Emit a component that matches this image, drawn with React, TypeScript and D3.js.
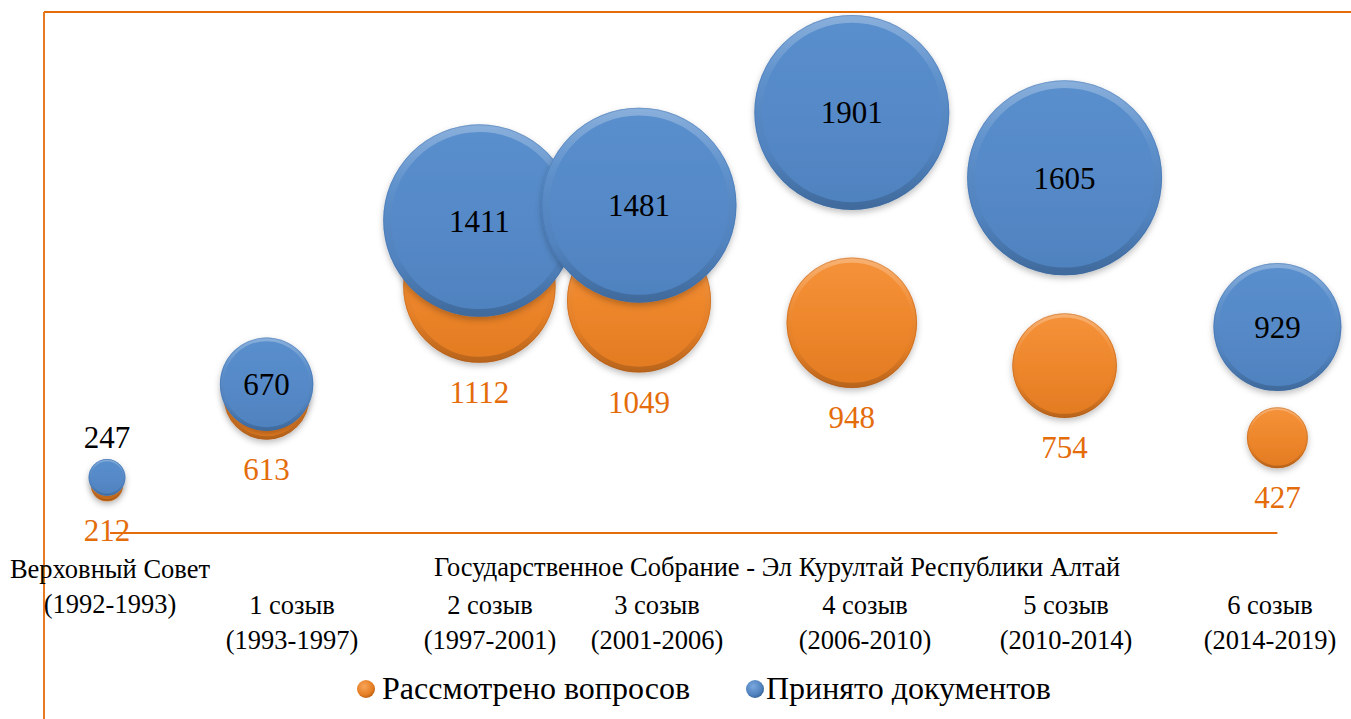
import React, { useEffect } from "react";
import * as d3 from "d3";

// ---- data ----
const seriesNames = ["Рассмотрено вопросов", "Принято документов"];
const categories = [
  ["Верховный Совет", "(1992-1993)"],
  ["1 созыв", "(1993-1997)"],
  ["2 созыв", "(1997-2001)"],
  ["3 созыв", "(2001-2006)"],
  ["4 созыв", "(2006-2010)"],
  ["5 созыв", "(2010-2014)"],
  ["6 созыв", "(2014-2019)"],
];
const groupTitle = "Государственное Собрание - Эл Курултай Республики Алтай";
const xValues = [1, 4, 8, 11, 15, 19, 23];
const reviewed = [212, 613, 1112, 1049, 948, 754, 427];
const adopted = [247, 670, 1411, 1481, 1901, 1605, 929];

// ---- layout ----
const W = 1351;
const H = 719;
const ORANGE_LINE = "#E46C0A";
const catLabelX = [110, 292, 490, 657, 865, 1066, 1270];
const FONT = "'Liberation Serif', 'Times New Roman', serif";
const CAT_FS = 26.5;
const VAL_FS = 31;
const LEG_FS = 32;

export default function App() {
  useEffect(() => {
    document.body.style.margin = "0";
  }, []);

  const x = d3.scaleLinear().domain([1, 23]).range([107, 1277.4]);
  const y = d3.scaleLinear().domain([0, 2000]).range([532, 90.6]);
  const r = d3.scaleLinear().domain([0, 1430]).range([2, 97.5]).clamp(true);

  const series = [
    { name: seriesNames[0], values: reviewed, grad: "gOrange", rim: "#a5561a" },
    { name: seriesNames[1], values: adopted, grad: "gBlue", rim: "#3b6aa3" },
  ];

  const bubble = (cx: number, cy: number, rad: number, s: any, key: string) => (
    <g key={key}>
      <circle cx={cx} cy={cy} r={rad} fill={`url(#${s.grad})`} filter="url(#shadow)" />
      <circle
        cx={cx}
        cy={cy}
        r={Math.max(rad - Math.max(1.5, rad * 0.04), 0.5)}
        fill="none"
        stroke="url(#rim)"
        strokeWidth={Math.max(1.5, rad * 0.08)}
      />
      <circle cx={cx} cy={cy} r={rad - 0.5} fill="none" stroke={s.rim} strokeOpacity={0.35} strokeWidth={1} />
    </g>
  );

  return (
    <svg width={W} height={H} style={{ display: "block", background: "#fff" }} fontFamily={FONT}>
      <defs>
        <linearGradient id="gBlue" x1="0" y1="0" x2="0" y2="1">
          <stop offset="0%" stopColor="#5a8fcd" />
          <stop offset="50%" stopColor="#5589c7" />
          <stop offset="100%" stopColor="#4f82bf" />
        </linearGradient>
        <linearGradient id="gOrange" x1="0" y1="0" x2="0" y2="1">
          <stop offset="0%" stopColor="#f5923a" />
          <stop offset="50%" stopColor="#ee872c" />
          <stop offset="100%" stopColor="#e27a22" />
        </linearGradient>
        <linearGradient id="rim" x1="0" y1="0" x2="0" y2="1">
          <stop offset="0%" stopColor="#fff" stopOpacity={0.28} />
          <stop offset="30%" stopColor="#fff" stopOpacity={0.06} />
          <stop offset="70%" stopColor="#000" stopOpacity={0.02} />
          <stop offset="100%" stopColor="#000" stopOpacity={0.18} />
        </linearGradient>
        <radialGradient id="legO" cx="0.4" cy="0.35" r="0.7">
          <stop offset="0%" stopColor="#f8a55a" />
          <stop offset="70%" stopColor="#e57d22" />
          <stop offset="100%" stopColor="#b25b12" />
        </radialGradient>
        <radialGradient id="legB" cx="0.4" cy="0.35" r="0.7">
          <stop offset="0%" stopColor="#7aa7de" />
          <stop offset="70%" stopColor="#4f81bd" />
          <stop offset="100%" stopColor="#335f94" />
        </radialGradient>
        <filter id="shadow" x="-30%" y="-30%" width="160%" height="170%">
          <feDropShadow dx="0" dy="3" stdDeviation="3" floodColor="#000" floodOpacity="0.25" />
        </filter>
      </defs>

      {/* frame lines */}
      <line x1={44} y1={12} x2={W} y2={12} stroke={ORANGE_LINE} strokeWidth={1.8} />
      <line x1={44} y1={12} x2={44} y2={H} stroke={ORANGE_LINE} strokeWidth={1.8} />

      {/* bubbles: orange series first, blue on top */}
      {series.map((s, si) =>
        s.values.map((v, i) => bubble(x(xValues[i]), y(v), r(v), s, `b${si}-${i}`))
      )}

      {/* baseline at zero */}
      <line
        x1={x(xValues[0]) + 3}
        x2={x(xValues[xValues.length - 1])}
        y1={y(0) + 1}
        y2={y(0) + 1}
        stroke={ORANGE_LINE}
        strokeWidth={2}
      />

      {/* orange data labels below */}
      {reviewed.map((v, i) => (
        <text
          key={`lo${i}`}
          x={x(xValues[i])}
          y={y(v) + r(v) + 40}
          textAnchor="middle"
          fontSize={VAL_FS}
          fill={ORANGE_LINE}
        >
          {v}
        </text>
      ))}

      {/* blue data labels */}
      {adopted.map((v, i) => {
        const small = r(v) < 30;
        return (
          <text
            key={`lb${i}`}
            x={x(xValues[i])}
            y={small ? y(v) - r(v) - 11 : y(v) + 11}
            textAnchor="middle"
            fontSize={VAL_FS}
            fill="#000"
          >
            {v}
          </text>
        );
      })}

      {/* category labels */}
      <text x={catLabelX[0]} y={578} textAnchor="middle" fontSize={CAT_FS}>
        {categories[0][0]}
      </text>
      <text x={catLabelX[0]} y={613} textAnchor="middle" fontSize={CAT_FS}>
        {categories[0][1]}
      </text>
      <text x={777} y={576} textAnchor="middle" fontSize={CAT_FS}>
        {groupTitle}
      </text>
      {categories.slice(1).map((c, k) => (
        <g key={`c${k}`}>
          <text x={catLabelX[k + 1]} y={614} textAnchor="middle" fontSize={CAT_FS}>
            {c[0]}
          </text>
          <text x={catLabelX[k + 1]} y={649} textAnchor="middle" fontSize={CAT_FS}>
            {c[1]}
          </text>
        </g>
      ))}

      {/* legend */}
      <circle cx={366} cy={689} r={9} fill="url(#legO)" />
      <text x={382} y={699} fontSize={LEG_FS}>
        {seriesNames[0]}
      </text>
      <circle cx={755} cy={689} r={9} fill="url(#legB)" />
      <text x={766} y={699} fontSize={LEG_FS}>
        {seriesNames[1]}
      </text>
    </svg>
  );
}
